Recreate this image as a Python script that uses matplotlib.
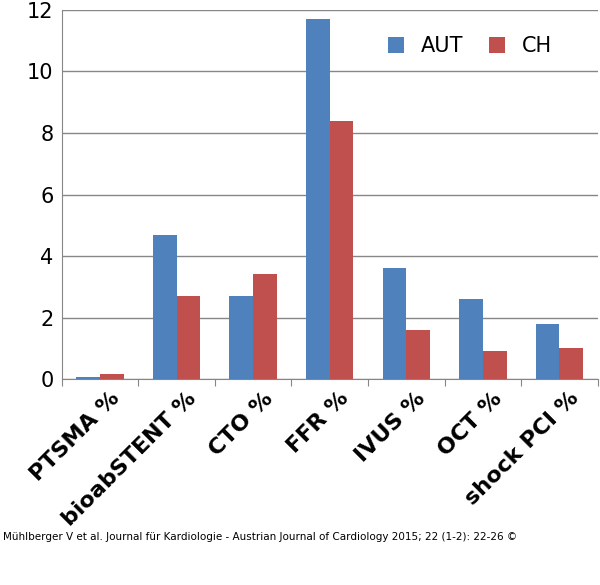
import matplotlib.pyplot as plt
import numpy as np

categories = ['PTSMA %', 'bioabSTENT %', 'CTO %', 'FFR %', 'IVUS %', 'OCT %', 'shock PCI %']
aut = [0.07, 4.7, 2.7, 11.7, 3.6, 2.6, 1.8]
ch = [0.15, 2.7, 3.4, 8.4, 1.6, 0.9, 1.0]

fig = plt.figure(figsize=(6, 5.85), dpi=100)
fig.patch.set_facecolor('#ffffff')
ax = fig.add_axes([0.103, 0.352, 0.893, 0.631])

x = np.arange(len(categories))
w = 0.31
ax.bar(x - w/2, aut, w, color='#4F81BD', label='AUT', zorder=3)
ax.bar(x + w/2, ch, w, color='#C0504D', label='CH', zorder=3)

ax.set_ylim(0, 12)
ax.set_xlim(-0.5, len(categories) - 0.5)
ax.set_yticks(range(0, 13, 2))
ax.tick_params(axis='y', labelsize=15, length=0, pad=6)
ax.yaxis.grid(True, color='#868686', linewidth=1, zorder=0)
ax.set_xticks(np.arange(-0.5, len(categories)), minor=False)
ax.set_xticklabels([])
ax.tick_params(axis='x', length=5, color='#868686', direction='out')
for i, c in enumerate(categories):
    ax.text(i + 0.12, -0.3, c, rotation=45, ha='right', va='top',
            fontsize=16, fontweight='bold', family='Liberation Sans Narrow',
            rotation_mode='anchor', transform=ax.transData)
for s in ['top', 'right']:
    ax.spines[s].set_visible(False)
ax.spines['left'].set_color('#868686')
ax.spines['bottom'].set_color('#868686')

ax.legend(loc='upper right', frameon=False, fontsize=15, ncol=2,
          handlelength=0.8, handleheight=0.8, columnspacing=1.2,
          bbox_to_anchor=(0.95, 0.98))

fig.text(0.005, 0.082, 'Mühlberger V et al. Journal für Kardiologie - Austrian Journal of Cardiology 2015; 22 (1-2): 22-26 ©',
         fontsize=7.5, ha='left', va='center')

fig.savefig('out.png', dpi=100)
